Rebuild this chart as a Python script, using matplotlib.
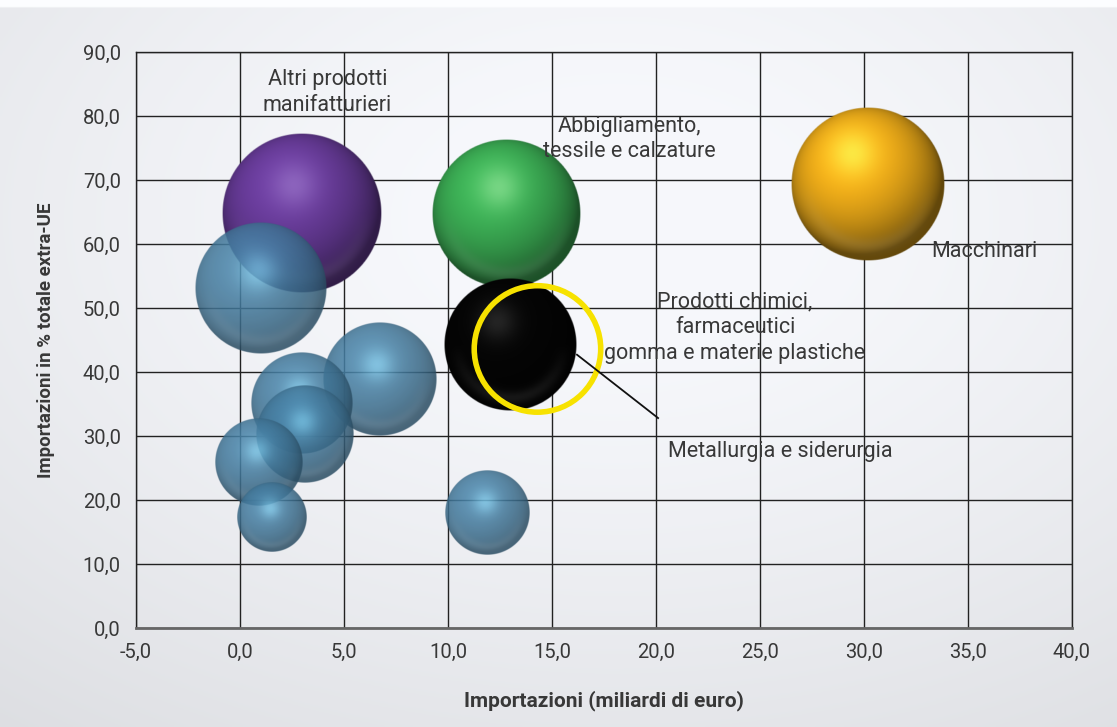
import numpy as np
import matplotlib
matplotlib.use("Agg")
import matplotlib.pyplot as plt
from matplotlib.patches import Ellipse

# dati: importazioni (mld euro), quota % extra-UE, peso bolla
x_vals = [3.0, 12.8, 30.2, 1.0, 6.7, 3.0, 3.1, 0.9, 1.5, 11.9, 13.0]
y_vals = [64.8, 64.7, 69.4, 53.1, 38.9, 35.2, 30.3, 25.9, 17.3, 18.0, 44.2]
sizes = [64, 55, 59, 43, 32, 26, 24, 19, 12, 18, 44]
kinds = ["purple", "green", "yellow", "blue", "blue", "blue", "blue", "blue", "blue", "blue", "black"]

ring_x, ring_y, ring_size = 14.3, 43.6, 40

x_ticks = np.arange(-5, 40.1, 5)
y_ticks = np.arange(0, 90.1, 10)

STYLE = {
    "purple": dict(base=(0.42, 0.24, 0.62), hl=(0.62, 0.48, 0.80), alpha=1.0, hpos=(-0.1, 0.35), amb=0.45, hs=0.6),
    "green": dict(base=(0.24, 0.70, 0.34), hl=(0.55, 0.88, 0.58), alpha=1.0, hpos=(-0.1, 0.35), amb=0.45, hs=0.7),
    "yellow": dict(base=(0.97, 0.70, 0.10), hl=(0.98, 0.95, 0.30), alpha=1.0, hpos=(-0.2, 0.40), amb=0.4, hs=0.8),
    "blue": dict(base=(0.27, 0.49, 0.63), hl=(0.52, 0.84, 0.97), alpha=0.86, hpos=(-0.05, 0.25), amb=0.62, hs=0.65),
    "black": dict(base=(0.02, 0.02, 0.02), hl=(0.22, 0.22, 0.22), alpha=1.0, hpos=(-0.2, 0.35), amb=0.4, hs=0.6),
}

INK = "#383838"
FONT = ["Roboto", "DejaVu Sans"]


def sphere_rgba(base, hl, alpha, hpos, amb, hs, n=240):
    yy, xx = np.mgrid[1:-1:n * 1j, -1:1:n * 1j]
    r = np.sqrt(xx ** 2 + yy ** 2)
    z = np.sqrt(np.clip(1 - r ** 2, 0, 1))
    L = np.array([-0.25, 0.4, 0.88]); L /= np.linalg.norm(L)
    d = np.clip(xx * L[0] + yy * L[1] + z * L[2], 0, 1)
    shade = amb + (1.05 - amb) * d
    base = np.array(base); hl = np.array(hl)
    rgb = base[None, None, :] * shade[..., None]
    g = np.exp(-((xx - hpos[0]) ** 2 + (yy - hpos[1]) ** 2) / 0.08) * hs
    rgb = rgb * (1 - g[..., None]) + hl[None, None, :] * g[..., None]
    # leggero riflesso sul bordo inferiore
    rim = np.exp(-((r - 0.80) ** 2) / 0.01) * np.clip(-yy, 0, 1) * 0.10
    rgb = rgb + (1 - rgb) * rim[..., None]
    a = np.clip((1 - r) * n / 2, 0, 1) * alpha
    return np.dstack([np.clip(rgb, 0, 1), a])


fig = plt.figure(figsize=(11.17, 7.27), dpi=100)

# sfondo sfumato
bg = fig.add_axes([0, 0, 1, 1], zorder=-10)
gy, gx = np.mgrid[0:1:300j, 0:1:400j]
v = 0.975 - 0.13 * np.clip(np.sqrt(((gx - 0.55) / 0.9) ** 2 + ((gy - 0.30) / 0.9) ** 2) - 0.2, 0, 1) ** 1.2
v[gy < 0.01] = 1.0
bgimg = np.dstack([v - 0.01, v - 0.005, v + 0.01])
bg.imshow(np.clip(bgimg, 0, 1), extent=(0, 1, 0, 1), origin="upper", aspect="auto")
bg.axis("off")

ax = fig.add_axes([0.1218, 0.1362, 0.8379, 0.7923])
ax.set_facecolor("none")
ax.set_xlim(-5, 40); ax.set_ylim(0, 90)
ax.set_xticks(x_ticks); ax.set_yticks(y_ticks)
ax.set_xticklabels([f"{t:.1f}".replace(".", ",") for t in x_ticks], family=FONT, fontsize=14.5, color=INK)
ax.set_yticklabels([f"{t:.1f}".replace(".", ",") for t in y_ticks], family=FONT, fontsize=14.5, color=INK)
ax.tick_params(length=0, pad=11)
ax.grid(True, color="#222222", lw=1.0, zorder=0)
ax.set_axisbelow(True)
for s in ax.spines.values():
    s.set_color("#222222"); s.set_linewidth(1.0)
ax.spines["bottom"].set_color("#666666"); ax.spines["bottom"].set_linewidth(2.0)

fig.canvas.draw()
p0 = ax.transData.transform((0, 0)); p1 = ax.transData.transform((1, 1))
ppx, ppy = p1[0] - p0[0], p1[1] - p0[1]

for i, (x, y, s, k) in enumerate(zip(x_vals, y_vals, sizes, kinds)):
    rpx = 10 * np.sqrt(s)
    rx, ry = rpx / ppx, rpx / ppy
    st = STYLE[k]
    ax.imshow(sphere_rgba(st["base"], st["hl"], st["alpha"], st["hpos"], st["amb"], st["hs"]),
              extent=(x - rx, x + rx, y - ry, y + ry), origin="upper",
              aspect="auto", interpolation="bilinear", zorder=2 + i * 0.01)

rr = 10 * np.sqrt(ring_size)
ax.add_patch(Ellipse((ring_x, ring_y), 2 * rr / ppx, 2 * rr / ppy, fill=False,
                     edgecolor="#f7e200", lw=4.0, zorder=3))
ax.plot([16.2, 20.1], [42.7, 32.8], color="#111111", lw=1.3, zorder=3.1)

ax.set_xlim(-5, 40); ax.set_ylim(0, 90)

txt = dict(family=FONT, fontsize=15.5, color=INK, ha="center", va="center", zorder=5,
           linespacing=1.3)
ax.text(4.2, 83.7, "Altri prodotti\nmanifatturieri", **txt)
ax.text(18.7, 76.4, "Abbigliamento,\ntessile e calzature", **txt)
ax.text(35.8, 58.8, "Macchinari", **txt)
ax.text(23.8, 46.9, "Prodotti chimici,\nfarmaceutici\ngomma e materie plastiche", **txt)
ax.text(26.0, 27.5, "Metallurgia e siderurgia", **txt)

ax.set_xlabel("Importazioni (miliardi di euro)", family=FONT, fontsize=15,
              fontweight="bold", color=INK, labelpad=20)
ax.set_ylabel("Importazioni in % totale extra-UE", family=FONT, fontsize=13.5,
              fontweight="bold", color=INK, labelpad=20)

fig.savefig("out.png", dpi=100)
